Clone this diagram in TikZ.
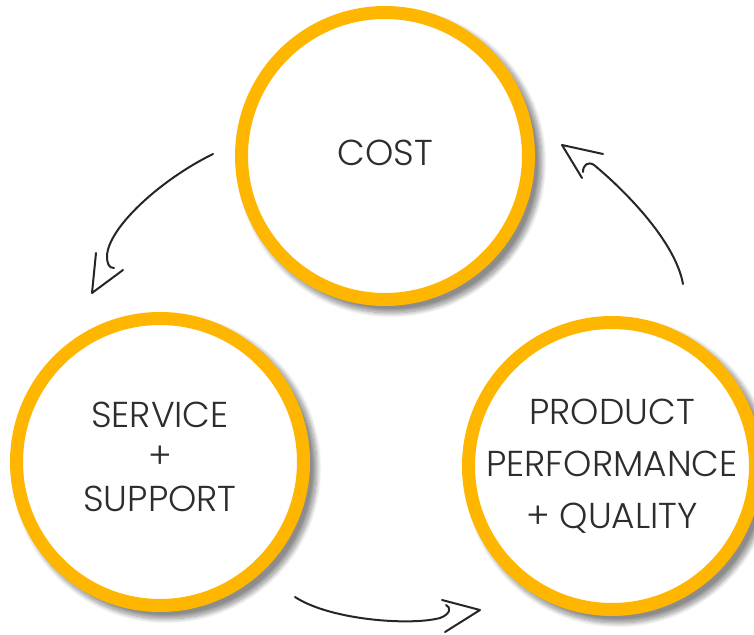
\documentclass[tikz,border=0pt]{standalone}
\usepackage{fontspec}
\setmainfont{Poppins}[UprightFont=* Light]
\usetikzlibrary{shadows.blur}
\definecolor{ringorange}{RGB}{254,182,0}
\definecolor{txtgrey}{RGB}{45,45,45}

\begin{document}
\begin{tikzpicture}[x=0.5pt,y=-0.5pt,
	ring/.style={circle,draw=ringorange,line width=6.5pt,fill=white,minimum size=143.5pt,inner sep=0pt,
		align=center,text=txtgrey,font=\fontsize{18}{21}\selectfont,
		blur shadow={shadow xshift=3pt,shadow yshift=-3pt,shadow blur steps=12,shadow opacity=45,shadow scale=1.05}},
	hand/.style={line width=1pt,line cap=round,line join=round,black!85}]
	\useasboundingbox (0,0) rectangle (754,635);	%page = reference size in px
	\def\up{3pt}	%text sits a bit above circle centre

	\node[ring] (cost) at (385,156) {\raisebox{\up}{COST}};			%top circle
	\node[ring] (service) at (160,462) {\raisebox{5pt}{\shortstack{SERVICE\\[6pt]+\\[6pt]SUPPORT}}};	%left circle
	\node[ring] (product) at (612,466) {PRODUCT\\[5pt]PERFORMANCE\\[5pt]+ QUALITY};	%right circle, cut by page edge

	%hand drawn arrows: curve with a hook, head drawn apart
	\coordinate (a1s) at (213,154); \coordinate (a1e) at (114,268);
	\coordinate (a1t) at (92,293);
	\draw[hand] (a1s) .. controls (160,180) and (108,228) .. (107,256) .. controls (107,264) and (109,268) .. (a1e);	%cost -> service
	\draw[hand] (96,253) -- (a1t) -- (123,270);

	\coordinate (a2s) at (295,597); \coordinate (a2e) at (446,605);
	\coordinate (a2t) at (480,610);
	\draw[hand] (a2s) .. controls (330,620) and (410,626) .. (440,618) .. controls (451,614) and (451,607) .. (a2e);	%service -> product
	\draw[hand] (442,600) -- (a2t) -- (445,632);

	\coordinate (a3s) at (683,284); \coordinate (a3e) at (583,172);
	\coordinate (a3t) at (562,145);
	\draw[hand] (a3s) .. controls (675,240) and (622,188) .. (594,165) .. controls (588,161) and (583,165) .. (a3e);	%product -> cost
	\draw[hand] (603,154) -- (a3t) -- (582,178);
\end{tikzpicture}
\end{document}
